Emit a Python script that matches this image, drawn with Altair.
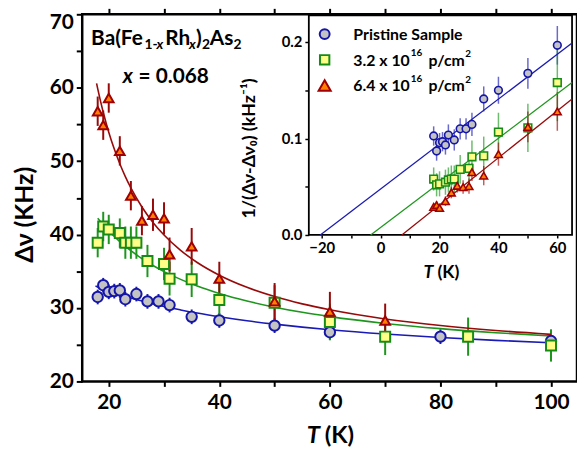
import altair as alt
import pandas as pd

FONT = "Lato"
SERIES = ["Pristine Sample", "3.2 x 10^16 p/cm^2", "6.4 x 10^16 p/cm^2"]

# ---------------- main panel data: T (K), linewidth (kHz), error ----------------
T_pristine = [18, 19, 20, 21, 22, 23, 25, 27, 29, 31, 35, 40, 50, 60, 80, 100]
dv_pristine = [31.5, 33.1, 32.2, 32.3, 32.4, 31.2, 31.9, 30.9, 30.9, 30.4, 28.8, 28.3, 27.6, 26.7, 26.1, 25.5]
err_pristine = [1.0, 1.0, 1.0, 1.0, 1.0, 1.0, 1.0, 1.0, 1.0, 1.0, 1.0, 1.0, 1.0, 1.0, 1.0, 1.0]

T_32 = [18, 19, 20, 22, 23, 24, 25, 27, 30, 31, 35, 40, 50, 60, 70, 85, 100]
dv_32 = [38.9, 41.1, 40.7, 40.2, 38.9, 38.9, 38.9, 36.4, 36.0, 34.0, 33.9, 31.1, 30.7, 28.1, 26.1, 26.1, 24.9]
err_32 = [2.0, 2.0, 2.0, 2.0, 2.2, 2.2, 2.2, 2.2, 2.2, 2.3, 2.4, 2.4, 2.4, 2.5, 2.5, 2.6, 2.2]

T_64 = [18, 19, 20, 22, 24, 26, 28, 30, 31, 35, 40, 50, 60, 70]
dv_64 = [56.8, 54.9, 58.6, 51.4, 45.3, 41.9, 42.7, 42.2, 37.3, 38.4, 34.0, 30.9, 29.5, 28.3]
err_64 = [2.0, 2.0, 2.0, 2.0, 2.0, 2.0, 2.2, 2.2, 2.3, 2.5, 2.3, 2.5, 2.7, 2.3]

# fitted curves
T_fit_pristine = [17.6, 18, 19, 20, 21, 22, 23, 24, 26, 28, 30, 33, 36, 40, 45, 50, 55, 60, 70, 80, 90, 100]
fit_pristine = [32.99, 32.87, 32.59, 32.32, 32.06, 31.82, 31.59, 31.36, 30.95, 30.57, 30.21, 29.74, 29.31,
                28.81, 28.26, 27.80, 27.40, 27.04, 26.45, 25.98, 25.59, 25.27]
T_fit_32 = [18, 19, 20, 21, 22, 23, 24, 26, 28, 30, 33, 36, 40, 45, 50, 55, 60, 70, 80, 90, 100]
fit_32 = [42.23, 41.33, 40.50, 39.75, 39.05, 38.40, 37.80, 36.73, 35.79, 34.96, 33.90, 32.99, 31.98,
          30.95, 30.11, 29.41, 28.83, 27.90, 27.19, 26.64, 26.19]
T_fit_64 = [17.8, 18, 19, 20, 21, 22, 23, 24, 26, 28, 30, 33, 36, 40, 45, 50, 55, 60, 70, 80, 90, 100]
fit_64 = [60.6, 59.87, 56.66, 53.95, 51.64, 49.64, 47.89, 46.35, 43.76, 41.66, 39.94, 37.85, 36.20,
          34.47, 32.82, 31.56, 30.56, 29.75, 28.51, 27.62, 26.94, 26.41]

# ---------------- inset data: 1/(dv - dv0) ----------------
Ti_pristine = [18, 19, 20, 21, 22, 23, 25, 27, 29, 31, 35, 40, 50, 60]
inv_pristine = [0.1026, 0.087, 0.0957, 0.0967, 0.0933, 0.1036, 0.0985, 0.110, 0.110, 0.1146, 0.141, 0.150, 0.1675, 0.1966]
inv_err_pristine = [0.010, 0.010, 0.010, 0.010, 0.010, 0.011, 0.011, 0.011, 0.011, 0.012, 0.013, 0.014, 0.016, 0.020]

Ti_32 = [18, 19, 20, 22, 23, 24, 25, 27, 30, 31, 35, 40, 50, 60]
inv_32 = [0.058, 0.052, 0.053, 0.0547, 0.057, 0.058, 0.058, 0.068, 0.069, 0.081, 0.082, 0.1067, 0.111, 0.158]
inv_err_32 = [0.012, 0.012, 0.013, 0.013, 0.013, 0.014, 0.014, 0.015, 0.016, 0.017, 0.020, 0.020, 0.025, 0.040]

Ti_64 = [18, 19, 20, 22, 24, 26, 28, 30, 31, 35, 40, 50, 60]
inv_64 = [0.029, 0.031, 0.028, 0.035, 0.044, 0.051, 0.0496, 0.0506, 0.065, 0.0615, 0.0838, 0.112, 0.128]
inv_err_64 = [0.004, 0.004, 0.004, 0.005, 0.006, 0.007, 0.007, 0.008, 0.009, 0.010, 0.012, 0.016, 0.020]

# inset straight fit lines (end points)
line_T = {SERIES[0]: [-20.5, 65], SERIES[1]: [-3.4, 65], SERIES[2]: [7.2, 65]}
line_inv = {SERIES[0]: [0.0, 0.199], SERIES[1]: [0.0, 0.158], SERIES[2]: [0.0, 0.141]}

# legend texts
leg_main = ["Pristine Sample", "3.2 x 10", "6.4 x 10"]
leg_sup1 = ["", "16", "16"]
leg_unit = ["", "p/cm", "p/cm"]
leg_sup2 = ["", "2", "2"]

# ---------------- tables ----------------
def pts(name, T, v, e):
    return pd.DataFrame({"series": name, "T": T, "v": v,
                         "lo": [a - b for a, b in zip(v, e)], "hi": [a + b for a, b in zip(v, e)]})

main_df = pd.concat([pts(SERIES[0], T_pristine, dv_pristine, err_pristine),
                     pts(SERIES[1], T_32, dv_32, err_32),
                     pts(SERIES[2], T_64, dv_64, err_64)], ignore_index=True)
fit_df = pd.concat([pd.DataFrame({"series": SERIES[0], "T": T_fit_pristine, "fit": fit_pristine}),
                    pd.DataFrame({"series": SERIES[1], "T": T_fit_32, "fit": fit_32}),
                    pd.DataFrame({"series": SERIES[2], "T": T_fit_64, "fit": fit_64})], ignore_index=True)
inset_df = pd.concat([pts(SERIES[0], Ti_pristine, inv_pristine, inv_err_pristine),
                      pts(SERIES[1], Ti_32, inv_32, inv_err_32),
                      pts(SERIES[2], Ti_64, inv_64, inv_err_64)], ignore_index=True)
iline_df = pd.concat([pd.DataFrame({"series": s, "T": line_T[s], "inv": line_inv[s]}) for s in SERIES],
                     ignore_index=True)

W, H = 500, 371
IX0, IX1, IY0, IY1 = 229, 495, 223, 1
IYMAX = 0.2277

main_x = alt.Scale(domain=[15.2, 104.7], nice=False, zero=False)
main_y = alt.Scale(domain=[20, 70], nice=False, zero=False)
ins_x = alt.Scale(domain=[-24.4, 65], range=[IX0, IX1], nice=False, zero=False)
ins_y = alt.Scale(domain=[0, IYMAX], range=[IY0, IY1], nice=False, zero=False)

SHAPES = ["circle", "square", "triangle-up"]
FILLS = ["#c3c3c3", "#ffff88", "#ff7f00"]
STROKES = ["#1515a8", "#168c16", "#a00000"]
LINECOLS = ["#1a1ab4", "#1e961e", "#980a0a"]
shape_s = alt.Scale(domain=SERIES, range=SHAPES)
fill_s = alt.Scale(domain=SERIES, range=FILLS)
stroke_s = alt.Scale(domain=SERIES, range=STROKES)
col_s = alt.Scale(domain=SERIES, range=LINECOLS)

main_x_axis = alt.Axis(values=list(range(20, 101, 10)), labelExpr="datum.value % 20 == 0 ? datum.label : ''",
                       title=None, domain=False, tickSize=5, tickWidth=2, tickColor="black",
                       labelFontSize=21, labelPadding=5, labelFlush=False, labelOverlap=False)
main_y_axis = alt.Axis(values=list(range(20, 71, 5)), labelExpr="datum.value % 10 == 0 ? datum.label : ''",
                       labelOffset={"condition": {"test": "datum.value == 70", "value": 8}, "value": 0},
                       title="Δν (KHz)", titleFont=FONT, titleFontSize=25, titleFontWeight="bold",
                       titleX=-58, titleY=202, titleAngle=-90, titleAlign="center", titleBaseline="middle",
                       domain=False, tickSize=6, tickWidth=2, tickColor="black",
                       labelFontSize=21, labelPadding=3, labelFlush=False, labelOverlap=False)
ins_x_axis = alt.Axis(orient="bottom", offset=-(H - IY0), values=list(range(-20, 61, 10)),
                      labelExpr="datum.value % 20 == 0 ? datum.label : ''", title=None, domain=False,
                      tickSize=3, tickWidth=1.5, tickColor="black", labelFontSize=15, labelPadding=3,
                      labelFlush=False, labelOverlap=False)
ins_y_axis = alt.Axis(orient="left", offset=-IX0, values=[0, 0.05, 0.1, 0.15, 0.2],
                      labelExpr="round(datum.value*100) % 10 == 0 ? format(datum.value, '.1f') : ''",
                      title="1/(Δν-Δν₀) (kHz⁻¹)", titleFont=FONT, titleFontSize=18, titleFontWeight="bold",
                      titleX=-60, titleY=135, titleAngle=-90, titleAlign="center", titleBaseline="middle",
                      domain=False, tickSize=4, tickWidth=1.5, tickColor="black", labelFontSize=15,
                      labelPadding=3, labelFlush=False, labelOverlap=False)

# ---------------- main panel ----------------
m_x = alt.X("T:Q", scale=main_x, axis=main_x_axis)
m_rules = alt.Chart(main_df).mark_rule(strokeWidth=2).encode(
    x=m_x, y=alt.Y("lo:Q", scale=main_y, axis=main_y_axis), y2="hi:Q",
    color=alt.Color("series:N", scale=col_s, legend=None))
m_lines = alt.Chart(fit_df).mark_line(strokeWidth=1.6, interpolate="monotone").encode(
    x=m_x, y=alt.Y("fit:Q", scale=main_y, axis=main_y_axis),
    color=alt.Color("series:N", scale=col_s, legend=None))
m_pts = alt.Chart(main_df).mark_point(filled=True, opacity=1, strokeWidth=2).encode(
    x=m_x, y=alt.Y("v:Q", scale=main_y, axis=main_y_axis),
    shape=alt.Shape("series:N", scale=shape_s, legend=None),
    fill=alt.Fill("series:N", scale=fill_s, legend=None),
    stroke=alt.Stroke("series:N", scale=stroke_s, legend=None),
    size=alt.Size("series:N", scale=alt.Scale(domain=SERIES, range=[110, 95, 190]), legend=None))
main_group = alt.layer(m_rules, m_lines, m_pts)

# ---------------- inset ----------------
frame = alt.Chart(pd.DataFrame({"x0": [-24.4], "x1": [65], "y0": [0], "y1": [IYMAX]})).mark_rect(
    fill="white", stroke="black", strokeWidth=1.8).encode(
    x=alt.X("x0:Q", scale=ins_x, axis=ins_x_axis), x2="x1:Q",
    y=alt.Y("y0:Q", scale=ins_y, axis=ins_y_axis), y2="y1:Q")
i_x = alt.X("T:Q", scale=ins_x, axis=ins_x_axis)
i_rules = alt.Chart(inset_df).mark_rule(strokeWidth=1.5, opacity=0.65).encode(
    x=i_x, y=alt.Y("lo:Q", scale=ins_y, axis=ins_y_axis), y2="hi:Q",
    color=alt.Color("series:N", scale=col_s, legend=None))
i_lines = alt.Chart(iline_df).mark_line(strokeWidth=1.3).encode(
    x=i_x, y=alt.Y("inv:Q", scale=ins_y, axis=ins_y_axis),
    color=alt.Color("series:N", scale=col_s, legend=None))
i_pts = alt.Chart(inset_df).mark_point(filled=True, opacity=1, strokeWidth=1.6).encode(
    x=i_x, y=alt.Y("v:Q", scale=ins_y, axis=ins_y_axis),
    shape=alt.Shape("series:N", scale=shape_s, legend=None),
    fill=alt.Fill("series:N", scale=fill_s, legend=None),
    stroke=alt.Stroke("series:N", scale=stroke_s, legend=None),
    size=alt.value(60))
inset_group = alt.layer(frame, i_rules, i_lines, i_pts)

# mirrored top ticks of the main frame
top_ticks = alt.Chart(pd.DataFrame({"T": list(range(20, 101, 10))})).mark_point(opacity=0).encode(
    x=alt.X("T:Q", scale=main_x, axis=alt.Axis(orient="top", values=list(range(20, 101, 10)), labels=False,
                                                 domain=False, title=None, tickSize=6, tickWidth=2,
                                                 tickColor="black")))

# ---------------- text ----------------
one = pd.DataFrame({"a": [0]})

def txt(s, x, y, size, italic=False):
    return alt.Chart(one).mark_text(text=s, align="left", baseline="alphabetic", font=FONT,
                                    fontSize=size, fontWeight="bold",
                                    fontStyle="italic" if italic else "normal", color="black").encode(
        x=alt.value(x), y=alt.value(y))

texts = [
    txt("Ba(Fe", 9, 31, 21), txt("1-", 63, 35, 14), txt("x", 75, 35, 14, True),
    txt("Rh", 84, 31, 21), txt("x", 108, 35, 14, True), txt(")", 115, 31, 21),
    txt("2", 121, 35, 14), txt("As", 129, 31, 21), txt("2", 153, 35, 14),
    txt("x", 41, 69, 21, True), txt("= 0.068", 57, 69, 21),
    txt("T", 227, 433, 24, True), txt("(K)", 245, 433, 24),
    txt("T", 345, 266, 18, True), txt("(K)", 359, 266, 18),
]

# legend drawn inside the inset
LEG_X, LEG_TX, LEG_Y, LEG_DY = 245, 274, 20, 26
leg_sizes = [100, 90, 150]
legend_marks = []
for i in range(3):
    cy = LEG_Y + i * LEG_DY
    legend_marks.append(alt.Chart(one).mark_point(
        filled=True, opacity=1, strokeWidth=2, shape=SHAPES[i], fill=FILLS[i], stroke=STROKES[i],
        size=leg_sizes[i]).encode(x=alt.value(LEG_X), y=alt.value(cy)))
    legend_marks.append(txt(leg_main[i], LEG_TX, cy + 6, 16))
    if leg_sup1[i]:
        legend_marks.append(txt(leg_sup1[i], LEG_TX + 58, cy - 4, 10))
        legend_marks.append(txt(leg_unit[i], LEG_TX + 76, cy + 6, 16))
        legend_marks.append(txt(leg_sup2[i], LEG_TX + 113, cy - 3, 10))

chart = alt.layer(main_group, inset_group, top_ticks, *texts, *legend_marks).resolve_scale(
    x="independent", y="independent").properties(
    width=W, height=H, padding={"left": 75, "top": 4, "right": 0, "bottom": 74},
    autosize=alt.AutoSizeParams(type="none")).configure_view(
    stroke="black", strokeWidth=2.5).configure_axis(
    labelFont=FONT, labelFontWeight="bold", labelColor="black", grid=False)

chart.save("out.html", embed_options={"renderer": "svg", "actions": False})
